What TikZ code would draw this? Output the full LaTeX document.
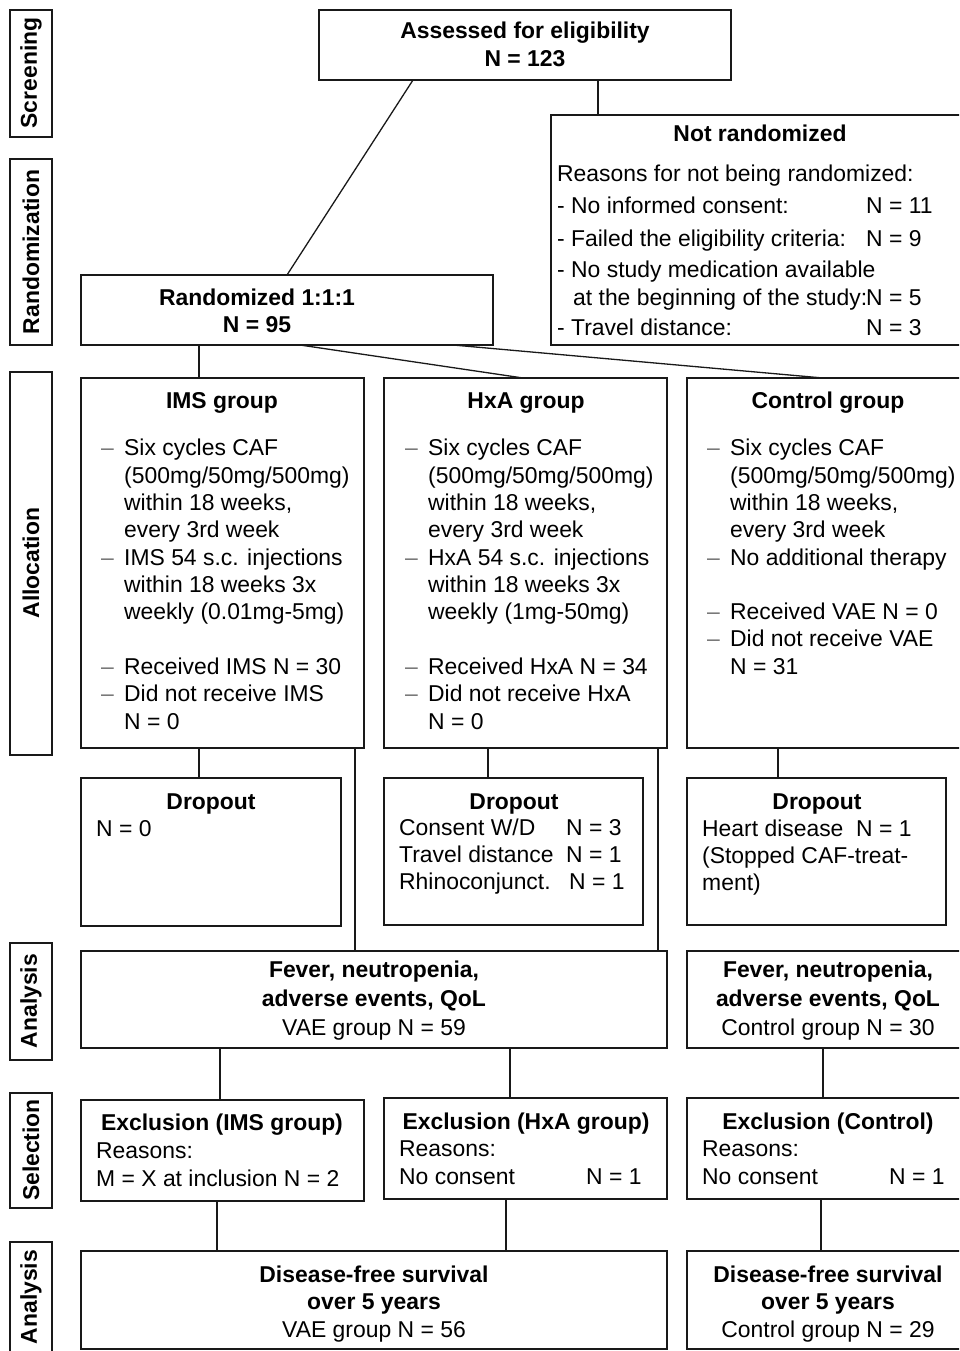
\documentclass[tikz,border=0pt]{standalone}
\usepackage{fontspec}
\setmainfont{Liberation Sans}
\newcommand\myfs{\fontsize{22.9}{28}\selectfont}
\begin{document}
\begin{tikzpicture}[x=1pt,y=-1pt,
  box/.style={draw=black!90, line width=1.6pt, inner sep=0, outer sep=0, anchor=north west},
  con/.style={draw=black!90, line width=1.3pt},
  tl/.style={inner sep=0, anchor=base west, font=\myfs},
  tc/.style={inner sep=0, anchor=base, font=\myfs},
  tb/.style={inner sep=0, anchor=base, font=\myfs\bfseries},
  bul/.style={inner sep=0, anchor=base west, font=\myfs, text=black!55},
  side/.style={inner sep=0, rotate=90, font=\myfs\bfseries}]
\useasboundingbox (0,0) rectangle (959,1351);
\clip (0,0) rectangle (959,1351);
% side labels
\node[box, minimum width=42, minimum height=127] (L1) at (10,10) {};
\node[box, minimum width=42, minimum height=186] (L2) at (10,159) {};
\node[box, minimum width=42, minimum height=383] (L3) at (10,372) {};
\node[box, minimum width=42, minimum height=117] (L4) at (10,943) {};
\node[box, minimum width=42, minimum height=115] (L5) at (10,1093) {};
\node[box, minimum width=42, minimum height=130] (L6) at (10,1242) {};
\node[side] (s1) at (31,73) {Screening};
\node[side] (s2) at (31,252) {Randomization};
\node[side] (s3) at (31,563) {Allocation};
\node[side] (s4) at (31,1001) {Analysis};
\node[side] (s5) at (31,1150) {Selection};
\node[side] (s6) at (31,1297) {Analysis};
% boxes
\node[box, minimum width=412, minimum height=70] (assess) at (319,10) {};
\node[box, minimum width=420, minimum height=230] (notrand) at (551,115) {};
\node[box, minimum width=412, minimum height=70] (rand) at (81,275) {};
\node[box, minimum width=283, minimum height=370] (ims) at (81,378) {};
\node[box, minimum width=283, minimum height=370] (hxa) at (384,378) {};
\node[box, minimum width=290, minimum height=370] (ctrl) at (687,378) {};
\node[box, minimum width=260, minimum height=148] (dims) at (81,778) {};
\node[box, minimum width=259, minimum height=147] (dhxa) at (384,778) {};
\node[box, minimum width=259, minimum height=147] (dctrl) at (687,778) {};
\node[box, minimum width=586, minimum height=97] (avae) at (81,951) {};
\node[box, minimum width=290, minimum height=97] (actrl) at (687,951) {};
\node[box, minimum width=283, minimum height=101] (eims) at (81,1100) {};
\node[box, minimum width=283, minimum height=101] (ehxa) at (384,1098) {};
\node[box, minimum width=290, minimum height=101] (ectrl) at (687,1098) {};
\node[box, minimum width=586, minimum height=98] (svae) at (81,1251) {};
\node[box, minimum width=290, minimum height=98] (sctrl) at (687,1251) {};
% connectors
\draw[con] ([xshift=94]assess.south west) -- ([xshift=206]rand.north west);
\draw[con] ([xshift=279]assess.south west) -- ([xshift=47]notrand.north west);
\draw[con] ([xshift=118]rand.south west) -- ([xshift=118]ims.north west);
\draw[con] ([xshift=219]rand.south west) -- ([xshift=139]hxa.north west);
\draw[con] ([xshift=372]rand.south west) -- ([xshift=136]ctrl.north west);
\draw[con] ([xshift=118]ims.south west) -- ([xshift=118]dims.north west);
\draw[con] ([xshift=274]ims.south west) -- ([xshift=274]avae.north west);
\draw[con] ([xshift=104]hxa.south west) -- ([xshift=104]dhxa.north west);
\draw[con] ([xshift=274]hxa.south west) -- ([xshift=577]avae.north west);
\draw[con] ([xshift=91]ctrl.south west) -- ([xshift=91]dctrl.north west);
\draw[con] ([xshift=139]avae.south west) -- ([xshift=139]eims.north west);
\draw[con] ([xshift=429]avae.south west) -- ([xshift=126]ehxa.north west);
\draw[con] ([xshift=136]actrl.south west) -- ([xshift=136]ectrl.north west);
\draw[con] ([xshift=136]eims.south west) -- ([xshift=136]svae.north west);
\draw[con] ([xshift=122]ehxa.south west) -- ([xshift=425]svae.north west);
\draw[con] ([xshift=134]ectrl.south west) -- ([xshift=134]sctrl.north west);
% assessed
\node[tb] (a1) at (525,39) {Assessed for eligibility};
\node[tb] (a2) at (525,67) {N = 123};
% not randomized
\node[tb] (n0) at (760,142) {Not randomized};
\node[tl] (n1) at (557,182) {Reasons for not being randomized:};
\node[tl] (n2) at (557,214) {- No informed consent:};
\node[tl] (n2n) at (866,214) {N = 11};
\node[tl] (n3) at (557,246) {- Failed the eligibility criteria:};
\node[tl] (n3n) at (866,246) {N = 9};
\node[tl] (n4) at (557,277) {- No study medication available};
\node[tl] (n5) at (573,305) {at the beginning of the study:};
\node[tl] (n5n) at (866,305) {N = 5};
\node[tl] (n6) at (557,335) {- Travel distance:};
\node[tl] (n6n) at (866,335) {N = 3};
% randomized
\node[tb] (r1) at (257,305) {Randomized 1:1:1};
\node[tb] (r2) at (257,332) {N = 95};
% IMS group
\node[tb] (i0) at (222,408) {IMS group};
\node[bul] (ib1) at (101,455) {--};
\node[tl] (i1) at (124,455) {Six cycles CAF};
\node[tl] (i2) at (124,483) {(500mg/50mg/500mg)};
\node[tl] (i3) at (124,510) {within 18 weeks,};
\node[tl] (i4) at (124,537) {every 3rd week};
\node[bul] (ib2) at (101,565) {--};
\node[tl] (i5) at (124,565) {IMS 54 s.c. injections};
\node[tl] (i6) at (124,592) {within 18 weeks 3x};
\node[tl] (i7) at (124,619) {weekly (0.01mg-5mg)};
\node[bul] (ib3) at (101,674) {--};
\node[tl] (i8) at (124,674) {Received IMS N = 30};
\node[bul] (ib4) at (101,701) {--};
\node[tl] (i9) at (124,701) {Did not receive IMS};
\node[tl] (i10) at (124,729) {N = 0};
% HxA group
\node[tb] (h0) at (526,408) {HxA group};
\node[bul] (hb1) at (405,455) {--};
\node[tl] (h1) at (428,455) {Six cycles CAF};
\node[tl] (h2) at (428,483) {(500mg/50mg/500mg)};
\node[tl] (h3) at (428,510) {within 18 weeks,};
\node[tl] (h4) at (428,537) {every 3rd week};
\node[bul] (hb2) at (405,565) {--};
\node[tl] (h5) at (428,565) {HxA 54 s.c. injections};
\node[tl] (h6) at (428,592) {within 18 weeks 3x};
\node[tl] (h7) at (428,619) {weekly (1mg-50mg)};
\node[bul] (hb3) at (405,674) {--};
\node[tl] (h8) at (428,674) {Received HxA N = 34};
\node[bul] (hb4) at (405,701) {--};
\node[tl] (h9) at (428,701) {Did not receive HxA};
\node[tl] (h10) at (428,729) {N = 0};
% Control group
\node[tb] (c0) at (828,408) {Control group};
\node[bul] (cb1) at (707,455) {--};
\node[tl] (c1) at (730,455) {Six cycles CAF};
\node[tl] (c2) at (730,483) {(500mg/50mg/500mg)};
\node[tl] (c3) at (730,510) {within 18 weeks,};
\node[tl] (c4) at (730,537) {every 3rd week};
\node[bul] (cb2) at (707,565) {--};
\node[tl] (c5) at (730,565) {No additional therapy};
\node[bul] (cb3) at (707,619) {--};
\node[tl] (c6) at (730,619) {Received VAE N = 0};
\node[bul] (cb4) at (707,646) {--};
\node[tl] (c7) at (730,646) {Did not receive VAE};
\node[tl] (c8) at (730,674) {N = 31};
% dropouts
\node[tb] (d1) at (211,809) {Dropout};
\node[tl] (d1a) at (96,836) {N = 0};
\node[tb] (d2) at (514,809) {Dropout};
\node[tl] (d2a) at (399,835) {Consent W/D};
\node[tl] (d2an) at (566,835) {N = 3};
\node[tl] (d2b) at (399,862) {Travel distance};
\node[tl] (d2bn) at (566,862) {N = 1};
\node[tl] (d2c) at (399,889) {Rhinoconjunct.};
\node[tl] (d2cn) at (569,889) {N = 1};
\node[tb] (d3) at (817,809) {Dropout};
\node[tl] (d3a) at (702,836) {Heart disease\ \ N = 1};
\node[tl] (d3b) at (702,863) {(Stopped CAF-treat-};
\node[tl] (d3c) at (702,890) {ment)};
% analysis
\node[tb] (v1) at (374,977) {Fever, neutropenia,};
\node[tb] (v2) at (374,1006) {adverse events, QoL};
\node[tc] (v3) at (374,1035) {VAE group N = 59};
\node[tb] (w1) at (828,977) {Fever, neutropenia,};
\node[tb] (w2) at (828,1006) {adverse events, QoL};
\node[tc] (w3) at (828,1035) {Control group N = 30};
% exclusion
\node[tb] (e1) at (222,1130) {Exclusion (IMS group)};
\node[tl] (e1a) at (96,1158) {Reasons:};
\node[tl] (e1b) at (96,1186) {M = X at inclusion N = 2};
\node[tb] (e2) at (526,1129) {Exclusion (HxA group)};
\node[tl] (e2a) at (399,1156) {Reasons:};
\node[tl] (e2b) at (399,1184) {No consent};
\node[tl] (e2n) at (586,1184) {N = 1};
\node[tb] (e3) at (828,1129) {Exclusion (Control)};
\node[tl] (e3a) at (702,1156) {Reasons:};
\node[tl] (e3b) at (702,1184) {No consent};
\node[tl] (e3n) at (889,1184) {N = 1};
% survival
\node[tb] (f1) at (374,1282) {Disease-free survival};
\node[tb] (f2) at (374,1309) {over 5 years};
\node[tc] (f3) at (374,1337) {VAE group N = 56};
\node[tb] (g1) at (828,1282) {Disease-free survival};
\node[tb] (g2) at (828,1309) {over 5 years};
\node[tc] (g3) at (828,1337) {Control group N = 29};
\end{tikzpicture}
\end{document}
